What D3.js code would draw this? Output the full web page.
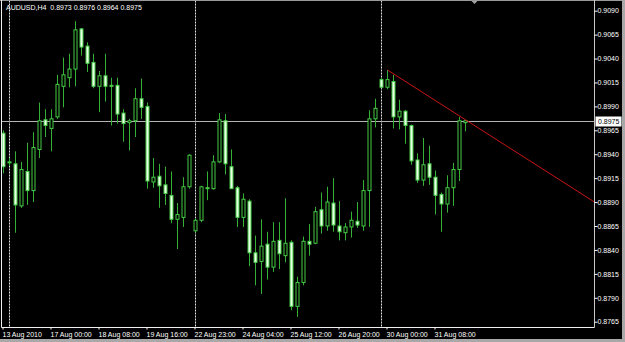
<!DOCTYPE html>
<html>
<head>
<meta charset="utf-8">
<script src="https://cdn.jsdelivr.net/npm/d3@7"></script>
<style>
  html, body { margin: 0; padding: 0; background: #000; }
  svg { display: block; }
  text { font-family: "Liberation Sans", Arial, sans-serif; font-size: 7px; fill: #fff; }
</style>
</head>
<body>
<svg id="chart" width="625" height="342"></svg>
<script>
// AUDUSD H4 candles, 13 Aug 2010 20:00 .. 31 Aug 2010 (MT4 green-on-black)
const symbol = "AUDUSD,H4";

const opens = [
  0.8962, 0.8932, 0.8930, 0.8886, 0.8922, 0.8902, 0.8945, 0.8976, 0.8967, 0.8979,
  0.9011, 0.9020, 0.9029, 0.9071, 0.9053, 0.9036, 0.9011, 0.9022, 0.9012, 0.9012,
  0.8983, 0.8973, 0.8975, 0.8998, 0.8990, 0.8911, 0.8917, 0.8908, 0.8897, 0.8872,
  0.8874, 0.8906, 0.8860, 0.8871, 0.8905, 0.8904, 0.8932, 0.8975, 0.8927, 0.8905,
  0.8874, 0.8891, 0.8837, 0.8828, 0.8846, 0.8822, 0.8850, 0.8834, 0.8848, 0.8781,
  0.8806, 0.8849, 0.8847, 0.8882, 0.8865, 0.8889, 0.8865, 0.8858, 0.8864, 0.8870,
  0.8865, 0.8902, 0.8977, 0.9018, 0.9010, 0.9016, 0.8979, 0.8985, 0.8970, 0.8934,
  0.8913, 0.8930, 0.8916, 0.8898, 0.8888, 0.8905, 0.8924, 0.8973
];
const highs = [
  0.8965, 0.8936, 0.8943, 0.8932, 0.8952, 0.8963, 0.8994, 0.8987, 0.8987, 0.9023,
  0.9041, 0.9045, 0.9079, 0.9072, 0.9057, 0.9045, 0.9027, 0.9045, 0.9020, 0.9020,
  0.8987, 0.8977, 0.9009, 0.9019, 0.8994, 0.8936, 0.8930, 0.8927, 0.8922, 0.8889,
  0.8916, 0.8940, 0.8873, 0.8907, 0.8922, 0.8939, 0.8983, 0.8982, 0.8945, 0.8907,
  0.8899, 0.8893, 0.8855, 0.8872, 0.8859, 0.8869, 0.8869, 0.8894, 0.8850, 0.8812,
  0.8854, 0.8867, 0.8885, 0.8900, 0.8906, 0.8915, 0.8891, 0.8868, 0.8880, 0.8890,
  0.8913, 0.8986, 0.8998, 0.9020, 0.9028, 0.9023, 0.8997, 0.8986, 0.8971, 0.8941,
  0.8957, 0.8949, 0.8923, 0.8900, 0.8918, 0.8931, 0.8979, 0.8976
];
const lows = [
  0.8920, 0.8928, 0.8858, 0.8884, 0.8887, 0.8890, 0.8936, 0.8958, 0.8943, 0.8977,
  0.8989, 0.9010, 0.9011, 0.9043, 0.9026, 0.9009, 0.8984, 0.8995, 0.8970, 0.8972,
  0.8953, 0.8944, 0.8958, 0.8977, 0.8904, 0.8905, 0.8884, 0.8887, 0.8868, 0.8841,
  0.8864, 0.8904, 0.8858, 0.8869, 0.8892, 0.8903, 0.8931, 0.8919, 0.8904, 0.8864,
  0.8864, 0.8823, 0.8803, 0.8794, 0.8809, 0.8817, 0.8820, 0.8827, 0.8777, 0.8770,
  0.8803, 0.8834, 0.8846, 0.8857, 0.8860, 0.8859, 0.8850, 0.8850, 0.8853, 0.8863,
  0.8860, 0.8864, 0.8968, 0.9009, 0.9008, 0.8967, 0.8966, 0.8951, 0.8929, 0.8910,
  0.8907, 0.8908, 0.8877, 0.8859, 0.8879, 0.8886, 0.8912, 0.8964
];
const closes = [
  0.8927, 0.8931, 0.8887, 0.8924, 0.8902, 0.8947, 0.8975, 0.8970, 0.8977, 0.9013,
  0.9023, 0.9029, 0.9070, 0.9052, 0.9035, 0.9011, 0.9022, 0.9011, 0.9011, 0.8982,
  0.8972, 0.8975, 0.8998, 0.8989, 0.8912, 0.8916, 0.8907, 0.8899, 0.8872, 0.8877,
  0.8906, 0.8939, 0.8871, 0.8906, 0.8904, 0.8932, 0.8976, 0.8930, 0.8904, 0.8874,
  0.8893, 0.8837, 0.8827, 0.8844, 0.8822, 0.8849, 0.8836, 0.8847, 0.8781, 0.8806,
  0.8849, 0.8846, 0.8880, 0.8865, 0.8890, 0.8866, 0.8859, 0.8864, 0.8871, 0.8866,
  0.8902, 0.8977, 0.8988, 0.9010, 0.9018, 0.8979, 0.8985, 0.8970, 0.8933, 0.8913,
  0.8929, 0.8916, 0.8897, 0.8888, 0.8905, 0.8924, 0.8975, 0.8975
];

const timeLabels = [
  "13 Aug 2010", "17 Aug 00:00", "18 Aug 08:00", "19 Aug 16:00", "22 Aug 23:00",
  "24 Aug 04:00", "25 Aug 12:00", "26 Aug 20:00", "30 Aug 00:00", "31 Aug 08:00"
];
const timeLabelBars = [0, 8, 16, 24, 32, 40, 48, 56, 64, 72];
const separatorBars = [1, 32, 63];   // first bar of each week

const priceTicks = [
  0.9090, 0.9065, 0.9040, 0.9015, 0.8990, 0.8965, 0.8940,
  0.8915, 0.8890, 0.8865, 0.8840, 0.8815, 0.8790, 0.8765
];
const bidPrice = 0.8975;

// trendline: [bar, price] anchors, drawn as a ray to the right
const trendFrom = [64, 0.9028];
const trendTo = [77, 0.8976];

const W = 625, H = 342;
const plot = { left: 1.5, top: 0.5, right: 594.5, bottom: 327.5 };
const barStep = 6;
const visibleBars = 98;

const wickColor = "#34b034";
const bodyStroke = "#44cc44";
const bearFill = "#e6ffe6";

const svg = d3.select("#chart");

const x = d3.scaleLinear().domain([0, visibleBars]).range([3.5, 3.5 + visibleBars * barStep]);
const y = d3.scaleLinear().domain([0.8765, 0.9090]).range([321.7, 10.7]);

svg.append("rect").attr("width", W).attr("height", H).attr("fill", "#000");

svg.append("defs").append("clipPath").attr("id", "plotClip")
  .append("rect")
  .attr("x", plot.left).attr("y", plot.top)
  .attr("width", plot.right - plot.left).attr("height", plot.bottom - plot.top);

const g = svg.append("g").attr("clip-path", "url(#plotClip)");

// period separators
g.selectAll("line.sep")
  .data(separatorBars)
  .join("line")
  .attr("class", "sep")
  .attr("x1", (d) => x(d)).attr("x2", (d) => x(d))
  .attr("y1", plot.top).attr("y2", plot.bottom)
  .attr("stroke", "#e0e0e0")
  .attr("stroke-dasharray", "2,1");

// bid line
const bidY = Math.round(y(bidPrice)) + 0.5;
g.append("line")
  .attr("x1", plot.left).attr("x2", plot.right)
  .attr("y1", bidY).attr("y2", bidY)
  .attr("stroke", "#b4b4b4");

// candles
const bars = opens.map((o, i) => ({ i, o, h: highs[i], l: lows[i], c: closes[i] }));

g.selectAll("line.wick")
  .data(bars)
  .join("line")
  .attr("class", "wick")
  .attr("x1", (d) => x(d.i)).attr("x2", (d) => x(d.i))
  .attr("y1", (d) => y(d.h)).attr("y2", (d) => y(d.l))
  .attr("stroke", wickColor);

g.selectAll("rect.body")
  .data(bars)
  .join("rect")
  .attr("class", "body")
  .attr("x", (d) => x(d.i) - 1.5)
  .attr("width", 3)
  .attr("y", (d) => y(Math.max(d.o, d.c)))
  .attr("height", (d) => Math.max(Math.abs(y(d.o) - y(d.c)), 0.6))
  .attr("fill", (d) => (d.c >= d.o ? "#000" : bearFill))
  .attr("stroke", bodyStroke);

// trendline ray
const slope = (trendTo[1] - trendFrom[1]) / (trendTo[0] - trendFrom[0]);
const endBar = x.invert(plot.right);
g.append("line")
  .attr("x1", x(trendFrom[0])).attr("y1", y(trendFrom[1]))
  .attr("x2", x(endBar)).attr("y2", y(trendFrom[1] + slope * (endBar - trendFrom[0])))
  .attr("stroke", "#c81414");

// frame
svg.append("line").attr("x1", 0).attr("x2", W).attr("y1", 0.5).attr("y2", 0.5).attr("stroke", "#9a9a9a");
svg.append("line").attr("x1", plot.left).attr("x2", plot.left).attr("y1", 0).attr("y2", plot.bottom).attr("stroke", "#f0f0f0");
svg.append("line").attr("x1", plot.left).attr("x2", plot.right).attr("y1", plot.bottom).attr("y2", plot.bottom).attr("stroke", "#f0f0f0");
svg.append("line").attr("x1", plot.right).attr("x2", plot.right).attr("y1", 0).attr("y2", plot.bottom).attr("stroke", "#c8c8c8");
svg.append("rect").attr("x", 622).attr("y", 0).attr("width", 3).attr("height", H).attr("fill", "#a8a8a8");
svg.append("rect").attr("x", 0).attr("y", 339).attr("width", W).attr("height", 3).attr("fill", "#a8a8a8");

// chart shift marker
const shiftX = x(opens.length - 1) + 9;
svg.append("path")
  .attr("d", `M${shiftX - 3},1 L${shiftX + 3},1 L${shiftX},4 Z`)
  .attr("fill", "#a0a0a0");

// price axis
const yAxis = svg.append("g")
  .attr("transform", `translate(${plot.right},0)`)
  .call(d3.axisRight(y).tickValues(priceTicks).tickFormat(d3.format(".4f")).tickSize(3).tickPadding(0).tickSizeOuter(0));
yAxis.select(".domain").remove();
yAxis.selectAll(".tick line").attr("stroke", "#fff");
yAxis.selectAll(".tick text").attr("fill", "#fff");

// bid label
svg.append("rect")
  .attr("x", plot.right + 1).attr("y", bidY - 5)
  .attr("width", 26).attr("height", 10)
  .attr("fill", "#fff");
svg.append("text")
  .attr("x", plot.right + 3.5).attr("y", bidY + 2.5)
  .style("fill", "#000")
  .text(bidPrice.toFixed(4));

// time axis
const xAxis = svg.append("g")
  .attr("transform", `translate(0,${plot.bottom})`)
  .call(d3.axisBottom(x).tickValues(timeLabelBars).tickFormat((d, i) => timeLabels[i]).tickSize(2).tickPadding(2.5).tickSizeOuter(0));
xAxis.select(".domain").remove();
xAxis.selectAll(".tick line").attr("stroke", "#fff").attr("transform", "translate(-1,0)");
xAxis.selectAll(".tick text").attr("text-anchor", "start").attr("x", -1.5).attr("fill", "#fff");

// d3 axes set their own font attributes; let the stylesheet win
svg.selectAll("g").attr("font-family", null).attr("font-size", null);

// title
const last = opens.length - 1;
svg.append("text")
  .attr("x", 6).attr("y", 10)
  .attr("xml:space", "preserve")
  .style("white-space", "pre")
  .text(`${symbol}  ${[opens[last], highs[last], lows[last], closes[last]].map((v) => v.toFixed(4)).join(" ")}`);
</script>
</body>
</html>
